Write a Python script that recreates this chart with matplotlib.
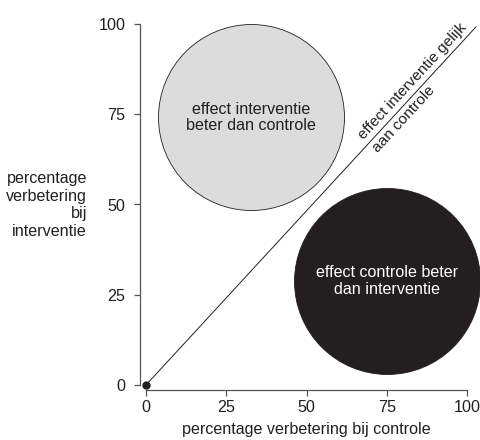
import matplotlib
matplotlib.use("Agg")
import matplotlib.pyplot as plt

plt.rcParams['font.family'] = ['Liberation Sans', 'DejaVu Sans']

# data
ticks = [0, 25, 50, 75, 100]
circle_x = [32.6, 75.1]
circle_y = [74.1, 28.7]
circle_labels = ["effect interventie\nbeter dan controle", "effect controle beter\ndan interventie"]
diag_x = [0, 102.8]
diag_y = [0, 99.2]
origin_x = [0]
origin_y = [0]
xlabel = "percentage verbetering bij controle"
ylabel = "percentage\nverbetering\nbij\ninterventie"
diag_label = "effect interventie gelijk\naan controle"

ink = '#231f20'
FS = 11.6
W, H = 481, 440
fig = plt.figure(figsize=(W / 100, H / 100), dpi=100)
ax = fig.add_axes([146 / W, (H - 385) / H, (467 - 146) / W, (385 - 24) / H])
ax.set_xlim(0, 100)
ax.set_ylim(0, 100)

diam_pt = 186 * 72 / 100
ax.scatter(circle_x[:1], circle_y[:1], s=diam_pt ** 2, c='#dcdcdd', edgecolors=ink,
           linewidths=0.6, clip_on=False, zorder=2)
ax.scatter(circle_x[1:], circle_y[1:], s=diam_pt ** 2, c=ink, edgecolors=ink,
           linewidths=0.6, clip_on=False, zorder=2)
ax.text(circle_x[0], circle_y[0], circle_labels[0], ha='center', va='center',
        fontsize=FS, color=ink, linespacing=1.15, zorder=3)
ax.text(circle_x[1], circle_y[1], circle_labels[1], ha='center', va='center',
        fontsize=FS, color='white', linespacing=1.15, zorder=3)

ax.plot(diag_x, diag_y, color=ink, lw=0.7, clip_on=False, zorder=2)
ax.plot(origin_x, origin_y, 'o', color=ink, ms=5, clip_on=False, zorder=4)
ax.text(69.2, 66.8, diag_label, rotation=47.3, rotation_mode='anchor', ha='left',
        va='center', multialignment='left', fontsize=11.1, color=ink, linespacing=1.55)

for s in ['top', 'right']:
    ax.spines[s].set_visible(False)
ax.spines['left'].set_position(('outward', 4.3))
ax.spines['bottom'].set_position(('outward', 3.6))
ax.spines['left'].set_bounds(0, 100)
ax.spines['bottom'].set_bounds(0, 100)
for s in ['left', 'bottom']:
    ax.spines[s].set_color('#555555')
    ax.spines[s].set_linewidth(0.9)
ax.set_xticks(ticks)
ax.set_yticks(ticks)
ax.tick_params(axis='both', length=4.5, width=0.9, color='#555555', labelsize=FS, labelcolor=ink)
ax.tick_params(axis='y', pad=6)
ax.tick_params(axis='x', pad=3)
ax.set_xlabel(xlabel, fontsize=FS, color=ink, labelpad=4.5)
ax.text(87 / W, (H - 205) / H, ylabel, transform=fig.transFigure, ha='right', va='center',
        fontsize=FS, color=ink, linespacing=1.2)
ax.patch.set_visible(False)

fig.savefig('out.png', dpi=100)
